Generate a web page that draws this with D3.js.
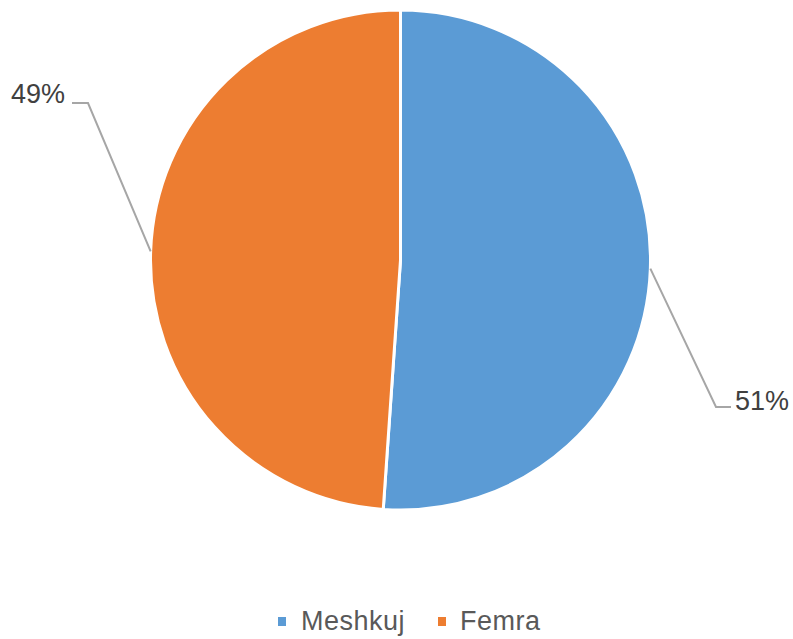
<!DOCTYPE html>
<html>
<head>
<meta charset="utf-8">
<script src="https://cdn.jsdelivr.net/npm/d3@7"></script>
<style>
  body { margin: 0; background: #fff; }
  svg { display: block; font-family: "Liberation Sans", Arial, sans-serif; }
</style>
</head>
<body>
<div id="chart"></div>
<script>
// Data
const categories = ["Meshkuj", "Femra"];
const values = [51.1, 48.9];
const colors = ["#5B9BD5", "#ED7D31"];

const width = 793, height = 639;
const cx = 400.5, cy = 260, radius = 250;

const svg = d3.select("#chart")
    .append("svg")
    .attr("width", width)
    .attr("height", height);

const g = svg.append("g")
    .attr("transform", `translate(${cx},${cy})`);

const pie = d3.pie().sort(null).value(d => d);
const arcs = pie(values);
const arc = d3.arc().innerRadius(0).outerRadius(radius);

// Slices
g.selectAll("path.slice")
    .data(arcs)
    .enter().append("path")
    .attr("class", "slice")
    .attr("d", arc)
    .attr("fill", (d, i) => colors[i])
    .attr("stroke", "#fff")
    .attr("stroke-width", 3)
    .attr("stroke-linejoin", "round");

// Label layout (elbow point, line end, label anchor) relative to centre
const labelLayout = [
    { elbow: [716 - cx, 407 - cy], end: [731 - cx, 407 - cy], text: [735 - cx, 410 - cy], anchor: "start" },
    { elbow: [88 - cx, 103 - cy], end: [72 - cx, 103 - cy], text: [65 - cx, 103 - cy], anchor: "end" }
];

const total = d3.sum(values);

arcs.forEach((d, i) => {
    const mid = (d.startAngle + d.endAngle) / 2;
    const sx = Math.sin(mid) * radius, sy = -Math.cos(mid) * radius;
    const L = labelLayout[i];
    g.append("polyline")
        .attr("points", [[sx, sy], L.elbow, L.end].map(p => p.join(",")).join(" "))
        .attr("fill", "none")
        .attr("stroke", "#A6A6A6")
        .attr("stroke-width", 2);
    g.append("text")
        .attr("x", L.text[0])
        .attr("y", L.text[1])
        .attr("text-anchor", L.anchor)
        .attr("fill", "#404040")
        .attr("font-size", 27)
        .text(Math.round(values[i] / total * 100) + "%");
});

// Legend
const legendItems = [
    { x: 278, textX: 301 },
    { x: 438, textX: 460 }
];
const legend = svg.append("g");
categories.forEach((c, i) => {
    legend.append("rect")
        .attr("x", legendItems[i].x)
        .attr("y", 617)
        .attr("width", 8)
        .attr("height", 9)
        .attr("fill", colors[i]);
    legend.append("text")
        .attr("x", legendItems[i].textX)
        .attr("y", 630)
        .attr("fill", "#595959")
        .attr("font-size", 27)
        .attr("letter-spacing", 0.5)
        .text(c);
});
</script>
</body>
</html>
